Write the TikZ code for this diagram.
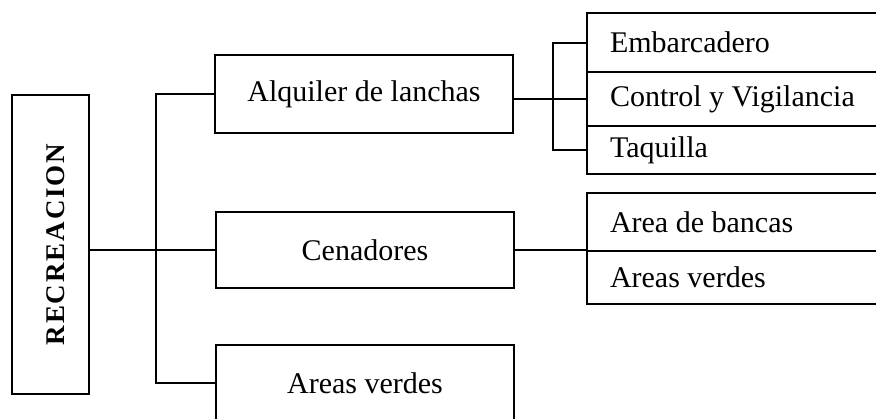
\documentclass[tikz,border=0pt]{standalone}
\usepackage{fontspec}
\usepackage{graphicx}
\setmainfont{Liberation Serif}
\usetikzlibrary{positioning}

\begin{document}
\begin{tikzpicture}[x=0.5pt,y=-0.5pt,
  mainbox/.style={draw,line width=1pt,minimum width=149pt,minimum height=38pt,
                  inner sep=0pt,font=\fontsize{15}{18}\selectfont},
  cell/.style={draw,line width=1pt,outer sep=0pt,minimum width=150pt,text width=127pt,
               align=flush left,inner xsep=11.5pt,inner ysep=0pt,font=\fontsize{15}{18}\selectfont},
  link/.style={line width=1pt}]

  \useasboundingbox (0,0) rectangle (876,418);
  \clip (0,0) rectangle (876,418);

  % Root box, text set upright
  \node[draw,line width=1pt,minimum width=38.5pt,minimum height=149.5pt,inner sep=0pt,
        font=\fontsize{13.5}{16}\selectfont\bfseries]
    (rec) at (50.5,244.5)
    {\hspace*{5.5pt}\rotatebox{90}{\addfontfeature{LetterSpace=7}RECREACION}};

  % Middle column
  \node[mainbox,minimum height=39pt] (alq) at (364,94) {Alquiler de lanchas};
  \node[mainbox] (cen) at (365,250) {Cenadores};
  \node[mainbox] (verd) at (365,383) {Areas verdes};

  % Right column, first group
  \node[cell,minimum height=29.5pt] (emb) at (737,42.5) {Embarcadero};
  \node[cell,minimum height=27pt,below=0pt of emb] (ctrl) {Control y Vigilancia};
  \node[cell,minimum height=24pt,below=0pt of ctrl] (taq) {Taquilla};

  % Right column, second group
  \node[cell,minimum height=29pt] (banc) at (737,222) {Area de bancas};
  \node[cell,minimum height=26.5pt,below=0pt of banc] (verdb) {Areas verdes};

  % Root to the trunk
  \coordinate (trunk) at (156,251);
  \draw[link] (rec.east |- cen.west) -- (cen.west);
  \draw[link] (alq.west) -| (trunk) |- (verd.west);

  % Alquiler de lanchas to its cells
  \coordinate (brk) at (553,99);
  \draw[link] (ctrl.west -| alq.east) -- (ctrl.west);
  \draw[link] (emb.west) -| (brk) |- (taq.west);

  % Cenadores to its cells
  \draw[link] (cen.east) -- (cen.east -| banc.south west);

\end{tikzpicture}
\end{document}
